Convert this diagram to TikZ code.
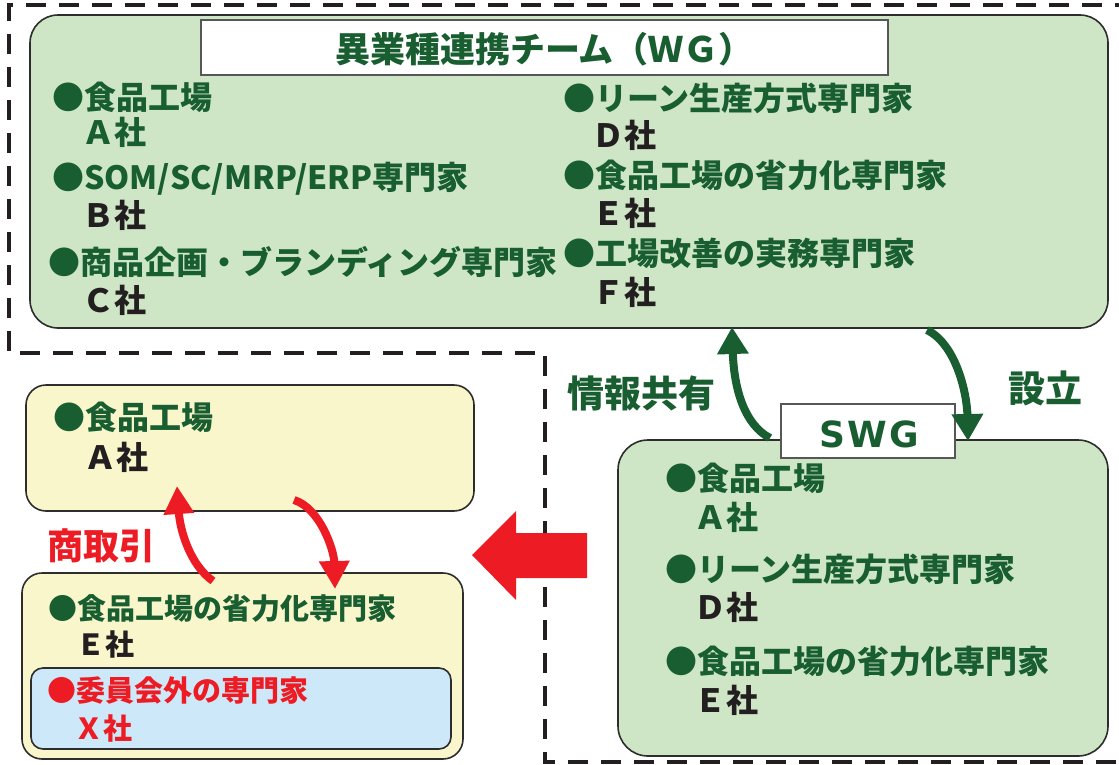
\documentclass[tikz,border=0pt]{standalone}
\usepackage{fontspec}
\setmainfont{Noto Sans CJK JP}
\newfontfamily\swgfont{DejaVu Sans}[UprightFont=* Bold]
\usetikzlibrary{arrows.meta}
\definecolor{gtxt}{RGB}{24,94,48}
\definecolor{gfill}{RGB}{207,230,198}
\definecolor{yfill}{RGB}{250,246,204}
\definecolor{bfill}{RGB}{205,232,248}
\definecolor{redc}{RGB}{237,28,36}
\definecolor{blk}{RGB}{35,31,32}
\definecolor{bordc}{RGB}{45,45,45}
\begin{document}
\begin{tikzpicture}[x=1pt,y=-1pt,
  box/.style={draw=bordc, line width=1.6pt, rounded corners=#1, inner sep=0pt},
  labelbox/.style={draw=bordc!80, line width=1.3pt, fill=white, inner sep=0pt},
  t/.style={anchor=base west, inner sep=0pt, text=gtxt, font=\bfseries\fontsize{32}{32}\selectfont},
  k/.style={t, text=blk},
  ts/.style={t, font=\bfseries\fontsize{29}{29}\selectfont},
  ks/.style={ts, text=blk},
  lab/.style={anchor=base, inner sep=0pt, font=\bfseries\fontsize{37}{37}\selectfont},
  dashline/.style={draw=blk, line width=4.5pt, dash pattern=on 20pt off 13pt},
  garrow/.style={draw=gtxt, line width=8pt, -{Triangle[length=27pt,width=30pt]}},
  rarrow/.style={draw=redc, line width=8pt, -{Triangle[length=28pt,width=29pt]}}
]
\useasboundingbox (0,0) rectangle (1119,764);

% outer dashed frame
\draw[dashline] (1135,5) -- (9,5) -- (9,353) -- (545,353) -- (545,762) -- (1135,762);

% WG box
\node[box=28pt, fill=gfill, minimum width=1078pt, minimum height=313pt] (wg) at (569,171.5) {};
\node[labelbox, minimum width=687pt, minimum height=55pt] (wgtitle) at (544.5,47.5) {};
\node[anchor=base, inner sep=0pt, text=gtxt, font=\bfseries\fontsize{35}{35}\selectfont] (wgtitletext) at (544.5,62) {異業種連携チーム（ＷＧ）};

\node[t] (wg1) at (52,109) {●食品工場};
\node[t] (wg1c) at (82,144) {Ａ社};
\node[t] (wg2) at (52,189) {●SOM/SC/MRP/ERP専門家};
\node[k] (wg2c) at (82,227) {Ｂ社};
\node[t] (wg3) at (48,274) {●商品企画・ブランディング専門家};
\node[k] (wg3c) at (82,312) {Ｃ社};
\node[t] (wg4) at (563,110) {●リーン生産方式専門家};
\node[k] (wg4c) at (592,147) {Ｄ社};
\node[t] (wg5) at (563,187) {●食品工場の省力化専門家};
\node[k] (wg5c) at (592,225) {Ｅ社};
\node[t] (wg6) at (563,265) {●工場改善の実務専門家};
\node[k] (wg6c) at (592,304) {Ｆ社};

% SWG box
\node[box=30pt, fill=gfill, minimum width=490pt, minimum height=316pt] (swg) at (863,598) {};
\node[labelbox, minimum width=174pt, minimum height=54pt] (swgtitle) at (868,431) {};
\node[anchor=base, inner sep=0pt, text=gtxt, font=\swgfont\fontsize{36}{36}\selectfont] (swgtext) at (869,447) {S\hspace{2pt}W\hspace{2pt}G};

\node[t] (s1) at (665,490) {●食品工場};
\node[t] (s1c) at (694,529) {Ａ社};
\node[t] (s2) at (665,581) {●リーン生産方式専門家};
\node[k] (s2c) at (694,619) {Ｄ社};
\node[t] (s3) at (665,673) {●食品工場の省力化専門家};
\node[k] (s3c) at (694,712) {Ｅ社};

% yellow boxes
\node[box=20pt, fill=yfill, minimum width=448pt, minimum height=126pt] (ya) at (250,448) {};
\node[t] (ya1) at (53,429) {●食品工場};
\node[k] (ya1c) at (84,469) {Ａ社};

\node[box=20pt, fill=yfill, minimum width=441pt, minimum height=186pt] (ye) at (242.5,666) {};
\node[ts] (ye1) at (48,619) {●食品工場の省力化専門家};
\node[ks] (ye1c) at (76,655) {Ｅ社};
\node[box=12pt, fill=bfill, minimum width=420pt, minimum height=81pt] (yx) at (241,708.5) {};
\node[ts, text=redc] (yx1) at (47,701) {●委員会外の専門家};
\node[ts, text=redc] (yx1c) at (74,739) {Ｘ社};

% labels
\node[lab, text=gtxt] (info) at (641,407) {情報共有};
\node[lab, text=gtxt] (setsu) at (1045,402) {設立};
\node[lab, text=redc, font=\bfseries\fontsize{36}{36}\selectfont] (trade) at (101,559) {商取引};

% green arrows
\coordinate (g1s) at (770,438);
\coordinate (g1e) at (732,327);
\draw[garrow] (g1s) .. controls (745,425) and (734,390) .. (g1e);
\coordinate (g2s) at (927,330);
\coordinate (g2e) at (968,441);
\draw[garrow] (g2s) .. controls (957,345) and (967,395) .. (g2e);

% red arrows
\coordinate (r1s) at (213,581);
\coordinate (r1e) at (177,486);
\draw[rarrow] (r1s) .. controls (190,565) and (180,530) .. (r1e);
\coordinate (r2s) at (294,500);
\coordinate (r2e) at (335,589);
\draw[rarrow] (r2s) .. controls (320,508) and (334,550) .. (r2e);

% big red block arrow
\fill[redc] (472,555) -- (516,511) -- (516,533) -- (587,533) -- (587,578) -- (516,578) -- (516,600) -- cycle;
\end{tikzpicture}
\end{document}
